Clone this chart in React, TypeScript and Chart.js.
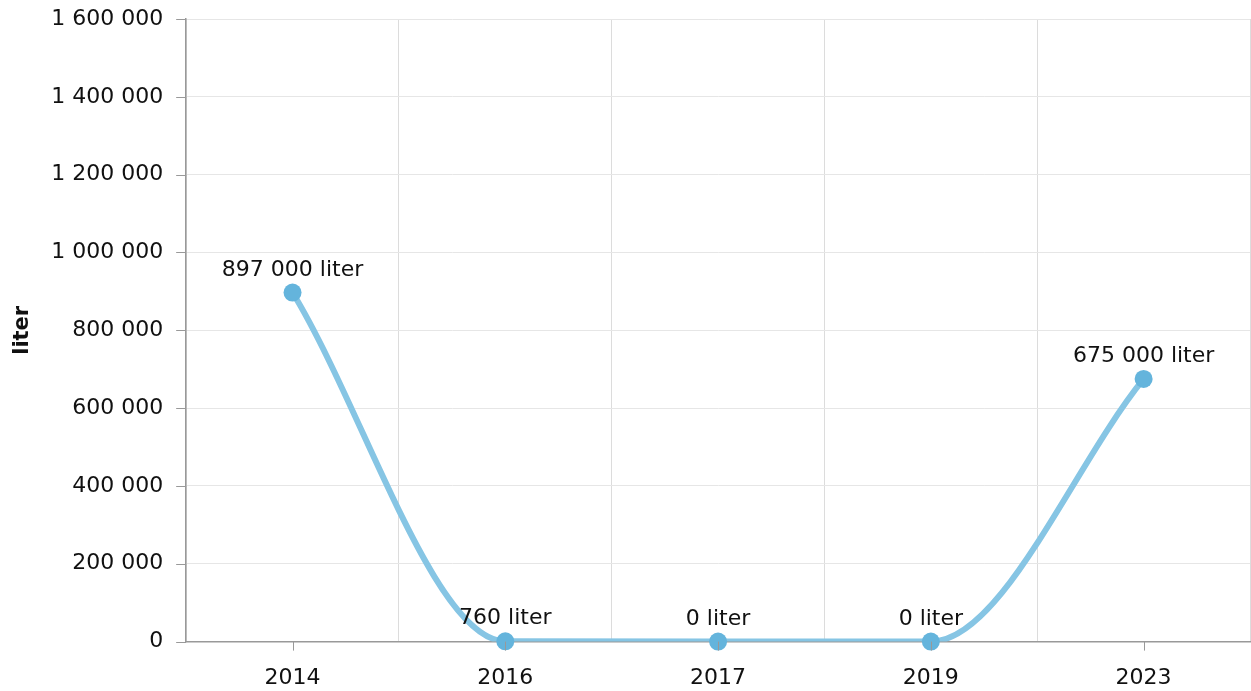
import React, { useEffect, useRef } from "react";
import { Chart, registerables } from "chart.js";

Chart.register(...registerables);

const categories = ["2014", "2016", "2017", "2019", "2023"];
const values = [897000, 760, 0, 0, 675000];
const unit = "liter";
const yMin = 0;
const yMax = 1600000;
const yStep = 200000;

const FONT = "'DejaVu Sans', Verdana, sans-serif";

function fmt(v: number): string {
  return String(Math.round(v)).replace(/\B(?=(\d{3})+(?!\d))/g, " ");
}

const labelPlugin = {
  id: "pointLabels",
  afterDatasetsDraw(chart: any) {
    const ctx = chart.ctx;
    const meta = chart.getDatasetMeta(1);
    ctx.save();
    ctx.font = `22px ${FONT}`;
    ctx.fillStyle = "#111";
    ctx.textAlign = "center";
    ctx.textBaseline = "alphabetic";
    meta.data.forEach((pt: any, i: number) => {
      ctx.fillText(`${fmt(values[i])} ${unit}`, pt.x, pt.y - 17);
    });
    ctx.restore();
  },
};

const tickMarksPlugin = {
  id: "tickMarks",
  afterDraw(chart: any) {
    const ctx = chart.ctx;
    const x = chart.scales.x;
    const y = chart.scales.y;
    ctx.save();
    ctx.strokeStyle = "#999";
    ctx.lineWidth = 1;
    categories.forEach((_c, i) => {
      const px = Math.round(x.getPixelForValue(i)) + 0.5;
      ctx.beginPath();
      ctx.moveTo(px, x.top);
      ctx.lineTo(px, x.top + 9);
      ctx.stroke();
    });
    y.ticks.forEach((t: any) => {
      const py = Math.round(y.getPixelForValue(t.value)) + 0.5;
      ctx.beginPath();
      ctx.moveTo(y.right - 10, py);
      ctx.lineTo(y.right, py);
      ctx.stroke();
    });
    ctx.restore();
  },
};

export default function App() {
  const ref = useRef<HTMLCanvasElement | null>(null);
  useEffect(() => {
    if (!ref.current) return;
    const chart = new Chart(ref.current, {
      type: "line",
      data: {
        labels: categories,
        datasets: [
          {
            data: values,
            borderColor: "#86c5e4",
            pointRadius: 0,
            borderWidth: 6,
            cubicInterpolationMode: "monotone",
            fill: false,
            clip: 0,
            order: 2,
          },
          {
            data: values,
            showLine: false,
            backgroundColor: "#64b4dc",
            pointBackgroundColor: "#64b4dc",
            pointBorderWidth: 0,
            pointRadius: 9,
            clip: false,
            order: 1,
          },
        ],
      },
      options: {
        animation: false,
        responsive: false,
        maintainAspectRatio: false,
        layout: { autoPadding: false, padding: { top: 19, right: 1, left: 4, bottom: 0 } },
        plugins: { legend: { display: false }, tooltip: { enabled: false } },
        scales: {
          x: {
            offset: true,
            grid: {
              offset: true,
              color: "#dcdcdc",
              drawTicks: true,
              tickLength: 23,
              tickColor: "rgba(0,0,0,0)",
            },
            border: { color: "#999", width: 1.5 },
            ticks: {
              color: "#111",
              font: { family: FONT, size: 22 },
              padding: 0,
            },
          },
          y: {
            min: yMin,
            max: yMax,
            ticks: {
              stepSize: yStep,
              color: "#111",
              font: { family: FONT, size: 22 },
              padding: 0,
              callback: (v: any) => fmt(Number(v)),
            },
            grid: { color: "#e6e6e6", tickColor: "rgba(0,0,0,0)", tickLength: 23 },
            border: { color: "#999", width: 1.5 },
            title: {
              display: true,
              text: unit,
              color: "#111",
              font: { family: FONT, size: 21, weight: "bold" },
              padding: { top: 6, bottom: 16 },
            },
          },
        },
      },
      plugins: [labelPlugin, tickMarksPlugin],
    });
    return () => chart.destroy();
  }, []);
  return (
    <div style={{ position: "fixed", left: 0, top: 0, width: 1251, height: 691, background: "#fff" }}>
      <canvas ref={ref} width={1251} height={691} style={{ width: 1251, height: 691, display: "block" }} />
    </div>
  );
}
